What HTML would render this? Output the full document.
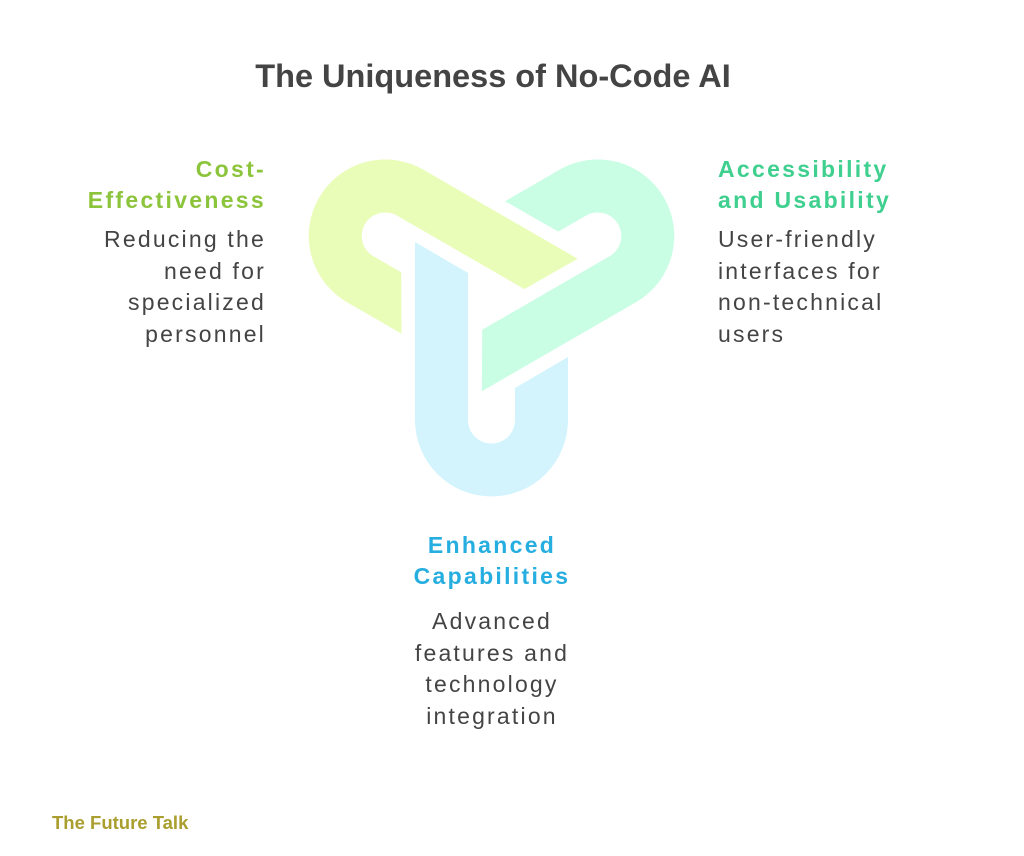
<!DOCTYPE html>
<html><head><meta charset="utf-8"><style>
html,body{margin:0;padding:0;background:#fff;}
body{width:1024px;height:856px;position:relative;overflow:hidden;font-family:"Liberation Sans",sans-serif;}
.t{position:absolute;white-space:nowrap;}
.title{left:0;width:986px;text-align:center;top:58px;font-size:32.5px;font-weight:bold;color:#444;}
.h{font-size:23px;font-weight:bold;line-height:31px;letter-spacing:2.3px;}
.b{font-size:23px;line-height:31.5px;color:#444;letter-spacing:2.2px;}
</style></head><body>
<div class="t title">The Uniqueness of No-Code AI</div>
<svg style="position:absolute;left:0;top:0" width="1024" height="856">
<defs><path id="p" d="M415,242 L468,273 L468,420 A23.5,23.5 0 0 0 515,420 L515,388 L568,357 L568,420 A76.5,76.5 0 0 1 415,420 Z"/></defs>
<use href="#p" fill="#e9fdb9" transform="rotate(120 491.5 297.3)"/>
<use href="#p" fill="#c9fee4" transform="rotate(-120 491.5 297.3)"/>
<use href="#p" fill="#d3f4fd"/>
</svg>
<div class="t h" style="right:758px;top:154px;text-align:right;color:#8cc43c">Cost-<br>Effectiveness</div>
<div class="t b" style="right:758px;top:224px;text-align:right">Reducing the<br>need for<br>specialized<br>personnel</div>
<div class="t h" style="left:718px;top:154px;color:#3fcf8e">Accessibility<br>and Usability</div>
<div class="t b" style="left:718px;top:224px">User-friendly<br>interfaces for<br>non-technical<br>users</div>
<div class="t h" style="left:372px;width:240px;top:530px;text-align:center;color:#27aee0">Enhanced<br>Capabilities</div>
<div class="t b" style="left:372px;width:240px;top:606px;text-align:center">Advanced<br>features and<br>technology<br>integration</div>
<div class="t" style="left:52px;top:812px;font-size:18.5px;font-weight:bold;color:#a99e2e">The Future Talk</div>
</body></html>
